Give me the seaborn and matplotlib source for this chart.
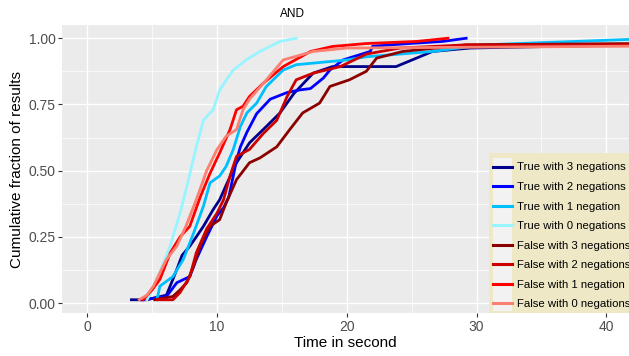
import pandas as pd
import matplotlib
matplotlib.use("Agg")
import matplotlib.pyplot as plt
import seaborn as sns
from matplotlib.lines import Line2D
from matplotlib.patches import Rectangle
from matplotlib.ticker import FixedLocator

# Zeiten (Sekunden) und kumulierte Anteile
t_true3 = [3.4, 4.6, 6.1, 6.6, 7.0, 7.3, 7.9, 8.4, 8.95, 9.7, 10.2, 10.7, 11.5, 12.5, 13.8, 14.85, 15.9, 17.4, 18.9, 23.8, 26.6, 29.5, 42.0]
f_true3 = [0.0125, 0.0125, 0.03, 0.09, 0.14, 0.18, 0.215, 0.25, 0.29, 0.353, 0.39, 0.445, 0.53, 0.605, 0.667, 0.718, 0.79, 0.868, 0.893, 0.893, 0.95, 0.963, 0.975]

t_true2 = [4.2, 6.1, 6.9, 7.9, 8.4, 9.2, 10.0, 10.5, 10.9, 11.25, 11.5, 11.8, 12.3, 13.05, 14.1, 15.4, 16.4, 17.2, 18.2, 18.7, 19.7, 21.8, 22.0, 24.8, 27.4, 29.2]
f_true2 = [0.0125, 0.025, 0.077, 0.10, 0.165, 0.25, 0.33, 0.36, 0.40, 0.48, 0.54, 0.59, 0.645, 0.715, 0.77, 0.795, 0.805, 0.81, 0.85, 0.88, 0.918, 0.95, 0.97, 0.98, 0.988, 1.0]

t_true1 = [5.36, 5.6, 6.6, 7.4, 8.2, 8.95, 9.46, 10.2, 10.7, 11.25, 11.8, 12.3, 13.05, 13.8, 15.1, 16.1, 20.0, 21.5, 26.6, 30.5, 42.0]
f_true1 = [0.0125, 0.064, 0.10, 0.165, 0.265, 0.366, 0.454, 0.48, 0.516, 0.58, 0.667, 0.718, 0.755, 0.818, 0.88, 0.90, 0.918, 0.93, 0.95, 0.975, 0.996]

t_true0 = [4.6, 5.0, 5.36, 6.38, 7.15, 7.67, 8.4, 8.95, 9.7, 10.2, 11.25, 12.3, 13.3, 14.85, 16.1]
f_true0 = [0.0125, 0.05, 0.089, 0.215, 0.34, 0.44, 0.59, 0.69, 0.73, 0.805, 0.88, 0.92, 0.95, 0.988, 1.0]

t_false3 = [5.2, 6.6, 7.15, 7.67, 8.2, 8.7, 9.46, 10.2, 10.7, 11.5, 12.5, 13.3, 14.6, 15.6, 16.6, 17.9, 18.7, 20.2, 21.5, 22.3, 24.3, 29.2, 42.0]
f_false3 = [0.0125, 0.025, 0.05, 0.077, 0.14, 0.215, 0.29, 0.315, 0.378, 0.466, 0.53, 0.548, 0.59, 0.655, 0.718, 0.755, 0.818, 0.843, 0.875, 0.925, 0.95, 0.975, 0.98]

t_false2 = [5.4, 6.6, 7.15, 7.9, 8.4, 9.2, 10.0, 10.5, 11.0, 11.5, 12.5, 13.56, 14.6, 15.4, 16.1, 17.4, 19.5, 21.5, 24.1, 29.2, 42.0]
f_false2 = [0.0125, 0.0125, 0.04, 0.10, 0.19, 0.28, 0.34, 0.39, 0.48, 0.554, 0.58, 0.64, 0.69, 0.78, 0.843, 0.868, 0.893, 0.94, 0.963, 0.975, 0.975]

t_false1 = [4.3, 5.0, 5.6, 6.4, 7.15, 7.9, 8.7, 9.46, 10.2, 11.0, 11.5, 12.0, 12.5, 13.56, 15.1, 17.2, 18.9, 21.5, 25.4, 27.8]
f_false1 = [0.0125, 0.05, 0.09, 0.19, 0.25, 0.29, 0.40, 0.49, 0.567, 0.655, 0.73, 0.743, 0.78, 0.83, 0.893, 0.95, 0.969, 0.98, 0.988, 1.0]

t_false0 = [4.0, 4.6, 5.1, 6.1, 6.9, 7.6, 8.4, 9.2, 10.0, 10.7, 11.5, 12.0, 12.5, 13.8, 15.1, 17.4, 20.0, 42.0]
f_false0 = [0.0125, 0.03, 0.064, 0.165, 0.215, 0.29, 0.39, 0.50, 0.58, 0.63, 0.655, 0.73, 0.77, 0.843, 0.918, 0.95, 0.963, 0.97]

groups = ["True with 3 negations", "True with 2 negations", "True with 1 negation", "True with 0 negations",
          "False with 3 negations", "False with 2 negations", "False with 1 negation", "False with 0 negations"]
colors = ["#00008B", "#0000FF", "#00BFFF", "#98F5FF", "#8B0000", "#CD0000", "#FF0000", "#FA8072"]

series = [(t_true3, f_true3), (t_true2, f_true2), (t_true1, f_true1), (t_true0, f_true0),
          (t_false3, f_false3), (t_false2, f_false2), (t_false1, f_false1), (t_false0, f_false0)]

frames = []
for name, (t, f) in zip(groups, series):
    frames.append(pd.DataFrame({"time": t, "frac": f, "group": name}))
df = pd.concat(frames, ignore_index=True)

plt.rcParams["font.family"] = ["Liberation Sans", "DejaVu Sans"]

W, H = 629, 356
fig = plt.figure(figsize=(W / 100, H / 100), dpi=100)
ax = fig.add_axes([62 / W, 1 - 313 / H, 1 - 62 / W, (313 - 25) / H])
ax.set_facecolor("#EBEBEB")

sns.lineplot(data=df, x="time", y="frac", hue="group", hue_order=groups,
             palette=dict(zip(groups, colors)), sort=False, estimator=None,
             linewidth=2.0, legend=False, ax=ax)

ax.set_xlim(-1.95, 41.75)
ax.set_ylim(-0.0375, 1.05)
ax.set_xticks([0, 10, 20, 30, 40])
ax.set_yticks([0, 0.25, 0.5, 0.75, 1.0])
ax.set_yticklabels(["0.00", "0.25", "0.50", "0.75", "1.00"])
ax.xaxis.set_minor_locator(FixedLocator([5, 15, 25, 35]))
ax.yaxis.set_minor_locator(FixedLocator([0.125, 0.375, 0.625, 0.875]))
ax.grid(which="major", color="white", linewidth=1.0)
ax.grid(which="minor", color="white", linewidth=0.5)
ax.set_axisbelow(True)
for s in ax.spines.values():
    s.set_visible(False)
ax.tick_params(which="major", length=2.75, width=0.8, color="#333333",
               labelsize=10, labelcolor="#4D4D4D", pad=2)
ax.tick_params(which="minor", length=0)

ax.set_xlabel("Time in second", fontsize=11, labelpad=2)
ax.set_ylabel("Cumulative fraction of results", fontsize=11, labelpad=3)
fig.text(292 / W, 1 - 14 / H, "AND", ha="center", va="center", fontsize=8.5)

# Legendenkasten wie bei ggplot: beiger Hintergrund, graue Schluesselspalte
fig.patches.append(Rectangle((489 / W, 1 - 313 / H), (W - 489) / W, (313 - 152.7) / H,
                             transform=fig.transFigure, facecolor="#EEE8C6", edgecolor="none", zorder=1))
fig.patches.append(Rectangle((492.7 / W, 1 - 310.7 / H), 19.6 / W, (310.7 - 158.3) / H,
                             transform=fig.transFigure, facecolor="#F2F2F2", edgecolor="none", zorder=1.1))

handles = [Line2D([], [], color=c, linewidth=2.2) for c in colors]
leg = fig.legend(handles, groups, loc="upper left", bbox_to_anchor=(492.7 / W, 1 - 162.5 / H),
                 borderaxespad=0, borderpad=0, frameon=False, fontsize=8.2,
                 handlelength=1.67, handletextpad=0.47, labelspacing=0.84)

fig.savefig("out.png", dpi=100)
